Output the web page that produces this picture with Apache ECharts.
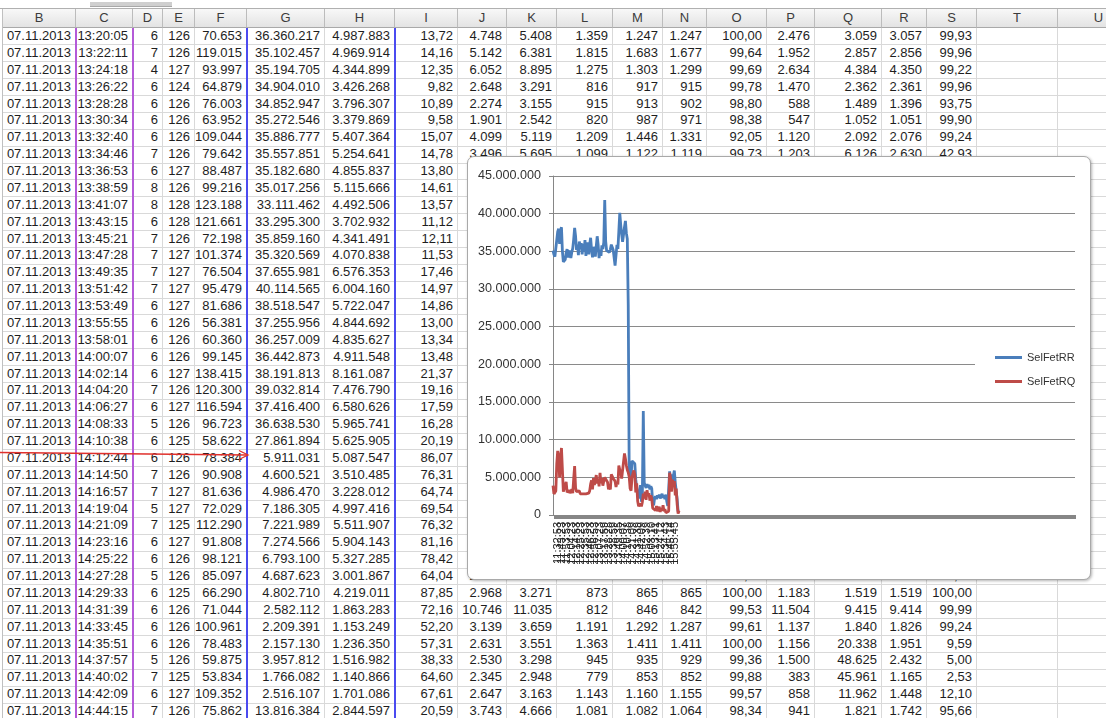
<!DOCTYPE html>
<html><head><meta charset="utf-8">
<script src="https://cdn.jsdelivr.net/npm/echarts@6/dist/echarts.min.js"></script>
<style>
html,body{margin:0;padding:0;background:#fff;}
body{width:1106px;height:718px;overflow:hidden;position:relative;font-family:'Liberation Sans',Arial,sans-serif;}
#sheet{position:absolute;left:0;top:0;width:1106px;height:718px;overflow:hidden;}
.c{position:absolute;box-sizing:border-box;border-right:1px solid #d9d9d9;border-bottom:1px solid #d9d9d9;font-size:13px;line-height:16px;color:#1e1e1e;text-align:right;padding-right:4px;white-space:nowrap;overflow:hidden;}
.h{position:absolute;box-sizing:border-box;border-right:1px solid #bcbcbc;border-bottom:1px solid #a9a9a9;background:linear-gradient(#f8f8f8,#e3e3e3);font-size:13px;color:#3c3c3c;text-align:center;line-height:18px;}
.vl{position:absolute;top:28px;height:690px;width:2px;}
#box{position:absolute;left:467px;top:156px;width:622px;height:422px;border:1px solid #a9a9a9;border-radius:7px;background:#fff;box-shadow:1px 1px 3px rgba(0,0,0,0.3);}
#chart{position:absolute;left:0;top:0;width:622px;height:422px;}
</style></head><body>
<div id="sheet"></div>
<svg id="arrow" width="1106" height="718" style="position:absolute;left:0;top:0;pointer-events:none">
  <line x1="0" y1="452.5" x2="247" y2="455" stroke="#e0302c" stroke-width="1.3"/>
  <polyline points="239,450.5 248,455 239,459.5" fill="none" stroke="#e0302c" stroke-width="1.3"/>
</svg>
<div id="box"><div id="chart"></div></div>
<script>
// ---------- chart data ----------
const times = [
"11:22:23","11:24:29","11:26:35","11:28:41","11:30:47","11:32:53","11:34:59","11:37:05","11:39:11","11:41:17",
"11:43:23","11:45:29","11:47:35","11:49:41","11:51:47","11:53:53","11:55:59","11:58:05","12:00:11","12:02:17",
"12:04:23","12:06:29","12:08:35","12:10:41","12:12:47","12:14:53","12:16:59","12:19:05","12:21:11","12:23:17",
"12:25:23","12:27:29","12:29:35","12:31:41","12:33:47","12:35:53","12:37:59","12:40:05","12:42:11","12:44:17",
"12:46:23","12:48:29","12:50:35","12:52:41","12:54:47","12:56:53","12:58:59","13:01:05","13:03:11","13:05:17",
"13:07:23","13:09:29","13:11:35","13:13:41","13:15:47","13:17:59",
"13:20:05","13:22:11","13:24:18","13:26:22","13:28:28","13:30:34","13:32:40","13:34:46","13:36:53","13:38:59",
"13:41:07","13:43:15","13:45:21","13:47:28","13:49:35","13:51:42","13:53:49","13:55:55","13:58:01","14:00:07",
"14:02:14","14:04:20","14:06:27","14:08:33","14:10:38","14:12:44","14:14:50","14:16:57","14:19:04","14:21:09",
"14:23:16","14:25:22","14:27:28","14:29:33","14:31:39","14:33:45","14:35:51","14:37:57","14:40:02","14:42:09",
"14:44:15",
"14:46:21","14:48:27","14:50:33","14:52:39","14:54:45","14:56:51","14:58:58","15:01:04","15:03:10","15:05:16",
"15:07:22","15:09:29","15:11:35","15:13:41","15:15:47","15:17:53","15:19:59","15:22:06","15:24:12","15:26:18",
"15:28:24","15:30:30","15:32:37","15:34:43","15:36:49","15:38:55","15:41:01","15:43:08","15:45:14","15:47:20",
"15:49:26","15:51:32","15:53:38","15:55:45","15:57:51","15:59:57","16:02:03","16:04:09"
];
const selFetRR = [
35100000,34600000,34300000,34500000,34200000,37600000,38000000,36000000,37800000,38200000,
35000000,33600000,33400000,33900000,34800000,35300000,34200000,34800000,35100000,34100000,
34900000,35400000,36600000,38100000,37000000,35200000,35900000,34500000,36300000,35500000,
36100000,34600000,36000000,35000000,36500000,34400000,35800000,36200000,34600000,35900000,
36800000,35200000,34200000,35600000,35000000,34300000,35700000,37000000,35900000,34100000,
35200000,34400000,35800000,35300000,36200000,41800000,
36360217,35102457,35194705,34904010,34852947,35272546,35886777,35557851,35182680,35017256,
33111462,33295300,35859160,35320569,37655981,40114565,38518547,37255956,36257009,36442873,
38191813,39032814,37416400,36638530,27861894,5911031,4600521,4986470,7186305,7221989,
7274566,6793100,4687623,4802710,2582112,2209391,2157130,3957812,1766082,2516107,
13816384,
4300000,3900000,3600000,4100000,3700000,4000000,3400000,3800000,3500000,1600000,
1300000,2200000,2500000,2100000,2600000,2300000,2700000,2200000,2500000,2800000,
2300000,2600000,2100000,2700000,1800000,1200000,1000000,5800000,4600000,5400000,
4100000,5200000,5900000,4300000,3200000,2100000,500000,300000
];
const selFetRQ = [
3900000,2800000,2600000,3200000,6800000,8500000,7800000,5000000,7500000,8900000,
6000000,3100000,2900000,3300000,4400000,3000000,2800000,3300000,2900000,3000000,
3400000,2900000,4800000,6500000,3600000,3100000,3000000,2900000,3200000,2800000,
2700000,3000000,2800000,2900000,2700000,2800000,3000000,2800000,2900000,3200000,
4100000,4600000,3400000,4900000,4000000,4600000,5300000,4200000,4800000,3800000,
5600000,4200000,4900000,3900000,4500000,5000000,
4987883,4969914,4344899,3426268,3796307,3379869,5407364,5254641,4855837,5115666,
4492506,3702932,4341491,4070838,6576353,6004160,5722047,4844692,4835627,4911548,
8161087,7476790,6580626,5965741,5625905,5087547,3510485,3228012,4997416,5511907,
5904143,5327285,3001867,4219011,1863283,1153249,1236350,1516982,1140866,1701086,
2844597,
2200000,3100000,2000000,3300000,2500000,2900000,1900000,2600000,2100000,900000,
700000,1000000,600000,1200000,500000,800000,1100000,400000,900000,600000,
1300000,500000,800000,300000,400000,200000,500000,5600000,4900000,3100000,
4700000,3800000,4500000,2600000,3500000,1400000,200000,600000
];
const yTicks = {min:0, max:45000000, step:5000000};
const seriesNames = ['SelFetRR','SelFetRQ'];

// ---------- worksheet data ----------
const colLetters = ['B','C','D','E','F','G','H','I','J','K','L','M','N','O','P','Q','R','S','T','U'];
const sheetDate = '07.11.2013';
const firstRowIndex = 56, rowCount = 41;
const colD = ['6','7','4','6','6','6','6','7','6','8','8','6','7','7','7','7','6','6','6','6','6','7','6','5','6','6','7','7','5','7','6','6','5','6','6','6','6','5','7','6','7'];
const colE = ['126','126','127','124','126','126','126','126','127','126','128','128','126','127','127','127','127','126','126','126','127','126','127','126','125','126','126','127','127','125','127','126','126','125','126','126','126','126','125','127','126'];
const colF = ['70.653','119.015','93.997','64.879','76.003','63.952','109.044','79.642','88.487','99.216','123.188','121.661','72.198','101.374','76.504','95.479','81.686','56.381','60.360','99.145','138.415','120.300','116.594','96.723','58.622','78.384','90.908','81.636','72.029','112.290','91.808','98.121','85.097','66.290','71.044','100.961','78.483','59.875','53.834','109.352','75.862'];
const colI = ['13,72','14,16','12,35','9,82','10,89','9,58','15,07','14,78','13,80','14,61','13,57','11,12','12,11','11,53','17,46','14,97','14,86','13,00','13,34','13,48','21,37','19,16','17,59','16,28','20,19','86,07','76,31','64,74','69,54','76,32','81,16','78,42','64,04','87,85','72,16','52,20','57,31','38,33','64,60','67,61','20,59'];
const rightBlock = {
 0:['4.748','5.408','1.359','1.247','1.247','100,00','2.476','3.059','3.057','99,93'],
 1:['5.142','6.381','1.815','1.683','1.677','99,64','1.952','2.857','2.856','99,96'],
 2:['6.052','8.895','1.275','1.303','1.299','99,69','2.634','4.384','4.350','99,22'],
 3:['2.648','3.291','816','917','915','99,78','1.470','2.362','2.361','99,96'],
 4:['2.274','3.155','915','913','902','98,80','588','1.489','1.396','93,75'],
 5:['1.901','2.542','820','987','971','98,38','547','1.052','1.051','99,90'],
 6:['4.099','5.119','1.209','1.446','1.331','92,05','1.120','2.092','2.076','99,24'],
 7:['3.496','5.695','1.099','1.122','1.119','99,73','1.203','6.126','2.630','42,93'],
 32:['2.201','2.619','1.085','1.024','1.019','99,12','878','1.385','1.333','98,21'],
 33:['2.968','3.271','873','865','865','100,00','1.183','1.519','1.519','100,00'],
 34:['10.746','11.035','812','846','842','99,53','11.504','9.415','9.414','99,99'],
 35:['3.139','3.659','1.191','1.292','1.287','99,61','1.137','1.840','1.826','99,24'],
 36:['2.631','3.551','1.363','1.411','1.411','100,00','1.156','20.338','1.951','9,59'],
 37:['2.530','3.298','945','935','929','99,36','1.500','48.625','2.432','5,00'],
 38:['2.345','2.948','779','853','852','99,88','383','45.961','1.165','2,53'],
 39:['2.647','3.163','1.143','1.160','1.155','99,57','858','11.962','1.448','12,10'],
 40:['3.743','4.666','1.081','1.082','1.064','98,34','941','1.821','1.742','95,66']
};

function dots(n){ return String(Math.round(n)).replace(/\B(?=(\d{3})+(?!\d))/g,'.'); }

// ---------- build worksheet ----------
(function(){
  const colEdges = [3,76,133,163,195,247,325,395,458,507,557,613,663,707,767,815,882,927,977,1058,1140];
  const sheet = document.getElementById('sheet');
  let html = '';
  html += '<div style="position:absolute;left:0;top:8px;width:1106px;height:1px;background:#b0b0b0"></div>';
  html += '<div style="position:absolute;left:90px;top:2px;width:82px;height:4px;background:#cfcfcf;border-bottom:1px solid #a8a8a8"></div>';
  const headTop = 9, headH = 19, rowTop = 28, rowH = 16.875;
  for (let j = 0; j < colLetters.length; j++) {
    const l = colEdges[j], w = colEdges[j+1]-colEdges[j];
    html += `<div class="h" style="left:${l}px;top:${headTop}px;width:${w}px;height:${headH}px">${colLetters[j]}</div>`;
  }
  for (let r = 0; r < rowCount; r++) {
    const k = firstRowIndex + r;
    const vals = [sheetDate, times[k], colD[r], colE[r], colF[r], dots(selFetRR[k]), dots(selFetRQ[k]), colI[r]];
    const rb = rightBlock[r] || ['','','','','','','','','',''];
    const all = vals.concat(rb, ['','']);
    const top = rowTop + r*rowH;
    for (let j = 0; j < colLetters.length; j++) {
      const l = colEdges[j], w = colEdges[j+1]-colEdges[j];
      html += `<div class="c" style="left:${l}px;top:${top}px;width:${w}px;height:${rowH+0.5}px">${all[j]}</div>`;
    }
  }
  html += '<div style="position:absolute;left:2px;top:9px;width:1px;height:709px;background:#c0c0c0"></div>';
  html += '<div class="vl" style="left:75px;background:#b45ad8"></div>';
  html += '<div class="vl" style="left:132px;background:#b45ad8"></div>';
  html += '<div class="vl" style="left:246px;background:#4b4bf0"></div>';
  html += '<div class="vl" style="left:394px;background:#4b4bf0"></div>';
  sheet.innerHTML = html;
})();

// ---------- chart ----------
const chart = echarts.init(document.getElementById('chart'), null, {renderer:'canvas'});
chart.setOption({
  animation:false,
  textStyle:{fontFamily:'Liberation Sans, Arial, sans-serif'},
  grid:{left:85, top:19, width:522, height:339, containLabel:false},
  legend:{
    orient:'vertical', left:507, top:183, backgroundColor:'#fff',
    padding:[12,8,12,20], itemGap:13, icon:'rect', itemWidth:27, itemHeight:3,
    textStyle:{fontSize:11, color:'#333'}, data:seriesNames
  },
  xAxis:{
    type:'category', data:times, boundaryGap:false, max:555,
    axisLine:{lineStyle:{color:'#868686', width:1}},
    axisTick:{show:true, interval:0, length:4, lineStyle:{color:'#868686'}},
    axisLabel:{interval:4, rotate:90, fontSize:11, color:'#222', margin:7, formatter:function(v){return v ? v : '';}},
    splitLine:{show:false}
  },
  yAxis:{
    type:'value', min:yTicks.min, max:yTicks.max, interval:yTicks.step,
    axisLine:{show:true, lineStyle:{color:'#868686'}},
    axisTick:{show:true, length:4, lineStyle:{color:'#868686'}},
    axisLabel:{formatter:dots, fontSize:12.6, color:'#333', margin:12},
    splitLine:{lineStyle:{color:'#8a8a8a', width:1}}
  },
  series:[
    {name:seriesNames[0], type:'line', data:selFetRR, showSymbol:false, symbol:'none',
     lineStyle:{width:2.8, color:'#4a7ebb'}, itemStyle:{color:'#4a7ebb'}},
    {name:seriesNames[1], type:'line', data:selFetRQ, showSymbol:false, symbol:'none',
     lineStyle:{width:2.8, color:'#be4b48'}, itemStyle:{color:'#be4b48'}}
  ]
});
</script>
</body></html>
